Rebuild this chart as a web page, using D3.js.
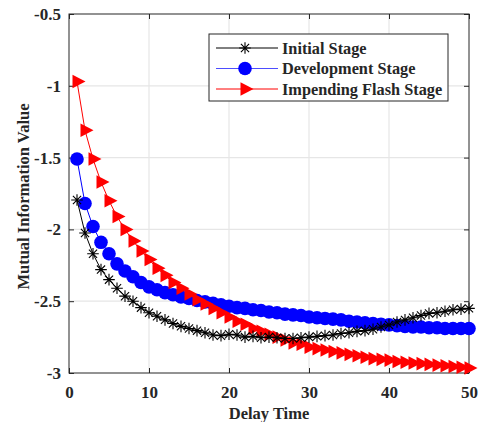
<!DOCTYPE html>
<html>
<head>
<meta charset="utf-8">
<script src="https://cdn.jsdelivr.net/npm/d3@7"></script>
<style>
  body { margin: 0; background: #fff; }
  text { font-family: "Liberation Serif", "Times New Roman", serif; font-weight: bold; fill: #262626; }
</style>
</head>
<body>
<div id="chart"></div>
<script>
// delay time 1..50
var delays = d3.range(1, 51);

var initialStage = [-1.795, -2.025, -2.17, -2.28, -2.35, -2.41, -2.465, -2.50, -2.545, -2.58,
  -2.605, -2.63, -2.655, -2.675, -2.69, -2.705, -2.72, -2.735, -2.74, -2.73,
  -2.735, -2.75, -2.745, -2.755, -2.75, -2.755, -2.76, -2.76, -2.755, -2.75,
  -2.745, -2.74, -2.735, -2.725, -2.72, -2.71, -2.705, -2.695, -2.68, -2.665,
  -2.645, -2.63, -2.615, -2.60, -2.585, -2.58, -2.57, -2.56, -2.555, -2.55];

var developmentStage = [-1.51, -1.82, -1.98, -2.09, -2.17, -2.24, -2.29, -2.33, -2.37, -2.40,
  -2.42, -2.44, -2.455, -2.47, -2.48, -2.495, -2.505, -2.515, -2.525, -2.535,
  -2.545, -2.55, -2.56, -2.565, -2.575, -2.58, -2.59, -2.595, -2.60, -2.61,
  -2.615, -2.62, -2.625, -2.63, -2.64, -2.645, -2.65, -2.655, -2.66, -2.665,
  -2.67, -2.675, -2.68, -2.68, -2.685, -2.685, -2.69, -2.69, -2.69, -2.69];

var flashStage = [-0.97, -1.31, -1.51, -1.67, -1.80, -1.91, -2.00, -2.08, -2.15, -2.21,
  -2.27, -2.32, -2.37, -2.41, -2.45, -2.49, -2.52, -2.55, -2.58, -2.61,
  -2.64, -2.66, -2.69, -2.71, -2.73, -2.75, -2.77, -2.79, -2.80, -2.82,
  -2.83, -2.84, -2.85, -2.86, -2.87, -2.88, -2.89, -2.90, -2.905, -2.91,
  -2.92, -2.925, -2.93, -2.935, -2.94, -2.945, -2.95, -2.955, -2.96, -2.965];

var seriesNames = ['Initial Stage', 'Development Stage', 'Impending Flash Stage'];
var xTicks = [0, 10, 20, 30, 40, 50];
var yTicks = [-3, -2.5, -2, -1.5, -1, -0.5];

var width = 479, height = 422;
var margin = {top: 14, right: 10, bottom: 49, left: 69};
var iw = width - margin.left - margin.right,
  ih = height - margin.top - margin.bottom;

var svg = d3.select('#chart').append('svg')
  .attr('width', width)
  .attr('height', height);

var g = svg.append('g').attr('transform', 'translate(' + margin.left + ',' + margin.top + ')');

var x = d3.scaleLinear().domain([0, 50]).range([0, iw]);
var y = d3.scaleLinear().domain([-3, -0.5]).range([ih, 0]);

// grid
g.append('g').selectAll('line').data(xTicks.slice(1, -1)).enter().append('line')
  .attr('x1', d => x(d)).attr('x2', d => x(d)).attr('y1', 0).attr('y2', ih)
  .attr('stroke', '#e6e6e6').attr('stroke-width', 1.2);
g.append('g').selectAll('line').data(yTicks.slice(1, -1)).enter().append('line')
  .attr('y1', d => y(d)).attr('y2', d => y(d)).attr('x1', 0).attr('x2', iw)
  .attr('stroke', '#e6e6e6').attr('stroke-width', 1.2);

// axes (ticks inward, MATLAB style)
var fmt = d => String(d);
function styleAxis(sel) {
  sel.select('.domain').remove();
  sel.selectAll('line').attr('stroke', '#262626');
  sel.selectAll('text').style('font-size', '17px').attr('fill', '#262626');
}
g.append('g').attr('transform', 'translate(0,' + ih + ')')
  .call(d3.axisBottom(x).tickValues(xTicks).tickFormat(fmt).tickSizeInner(-5).tickPadding(13))
  .call(styleAxis);
g.append('g').call(d3.axisTop(x).tickValues(xTicks).tickFormat('').tickSizeInner(-5))
  .call(styleAxis);
g.append('g')
  .call(d3.axisLeft(y).tickValues(yTicks).tickFormat(fmt).tickSizeInner(-5).tickPadding(8))
  .call(styleAxis);
g.append('g').attr('transform', 'translate(' + iw + ',0)')
  .call(d3.axisRight(y).tickValues(yTicks).tickFormat('').tickSizeInner(-5))
  .call(styleAxis);

g.append('rect').attr('width', iw).attr('height', ih)
  .attr('fill', 'none').attr('stroke', '#262626').attr('stroke-width', 1);

// axis titles
svg.append('text').attr('x', margin.left + iw / 2).attr('y', 419)
  .attr('text-anchor', 'middle').style('font-size', '16.5px').text('Delay Time');
svg.append('text')
  .attr('transform', 'translate(29,' + (margin.top + ih / 2 + 3) + ') rotate(-90)')
  .attr('text-anchor', 'middle').style('font-size', '16.5px').text('Mutual Information Value');

// markers
function asterisk(sel, r) {
  var p = '';
  [0, 45, 90, 135].forEach(function(a) {
    var rad = a * Math.PI / 180, dx = r * Math.cos(rad), dy = r * Math.sin(rad);
    p += 'M' + (-dx) + ',' + (-dy) + 'L' + dx + ',' + dy;
  });
  sel.append('path').attr('d', p).attr('stroke', '#000').attr('stroke-width', 1.1).attr('fill', 'none');
}
function circle(sel) {
  sel.append('circle').attr('r', 6.8).attr('fill', '#0000ff');
}
function triangle(sel) {
  sel.append('path').attr('d', 'M-4.5,-6.8L-4.5,6.8L8.5,0Z').attr('fill', '#ff0000');
}

var series = [
  {name: seriesNames[1], values: developmentStage, color: '#0000ff', marker: circle},
  {name: seriesNames[2], values: flashStage, color: '#ff0000', marker: triangle},
  {name: seriesNames[0], values: initialStage, color: '#000000', marker: s => asterisk(s, 5.8)}
];

var line = d3.line().x(d => x(d[0])).y(d => y(d[1]));

series.forEach(function(s) {
  var pts = delays.map((d, i) => [d, s.values[i]]);
  g.append('path').datum(pts).attr('d', line)
    .attr('fill', 'none').attr('stroke', s.color).attr('stroke-width', 1);
  g.append('g').selectAll('g').data(pts).enter().append('g')
    .attr('transform', d => 'translate(' + x(d[0]) + ',' + y(d[1]) + ')')
    .each(function() { s.marker(d3.select(this)); });
});

// legend
var legend = svg.append('g').attr('transform', 'translate(209,34)');
legend.append('rect').attr('width', 239).attr('height', 67)
  .attr('fill', '#fff').attr('stroke', '#262626').attr('stroke-width', 1);
var legendOrder = [
  {name: seriesNames[0], color: '#000000', marker: s => asterisk(s, 5.8)},
  {name: seriesNames[1], color: '#4d4dff', marker: circle},
  {name: seriesNames[2], color: '#ff0000', marker: triangle}
];
legendOrder.forEach(function(s, i) {
  var row = legend.append('g').attr('transform', 'translate(0,' + (14 + i * 20.5) + ')');
  row.append('line').attr('x1', 7).attr('x2', 69).attr('stroke', s.color).attr('stroke-width', 1);
  var m = row.append('g').attr('transform', 'translate(36,0)');
  s.marker(m);
  row.append('text').attr('x', 73).attr('y', 5.5).style('font-size', '16.3px').attr('fill', '#000')
    .text(s.name);
});
</script>
</body>
</html>
